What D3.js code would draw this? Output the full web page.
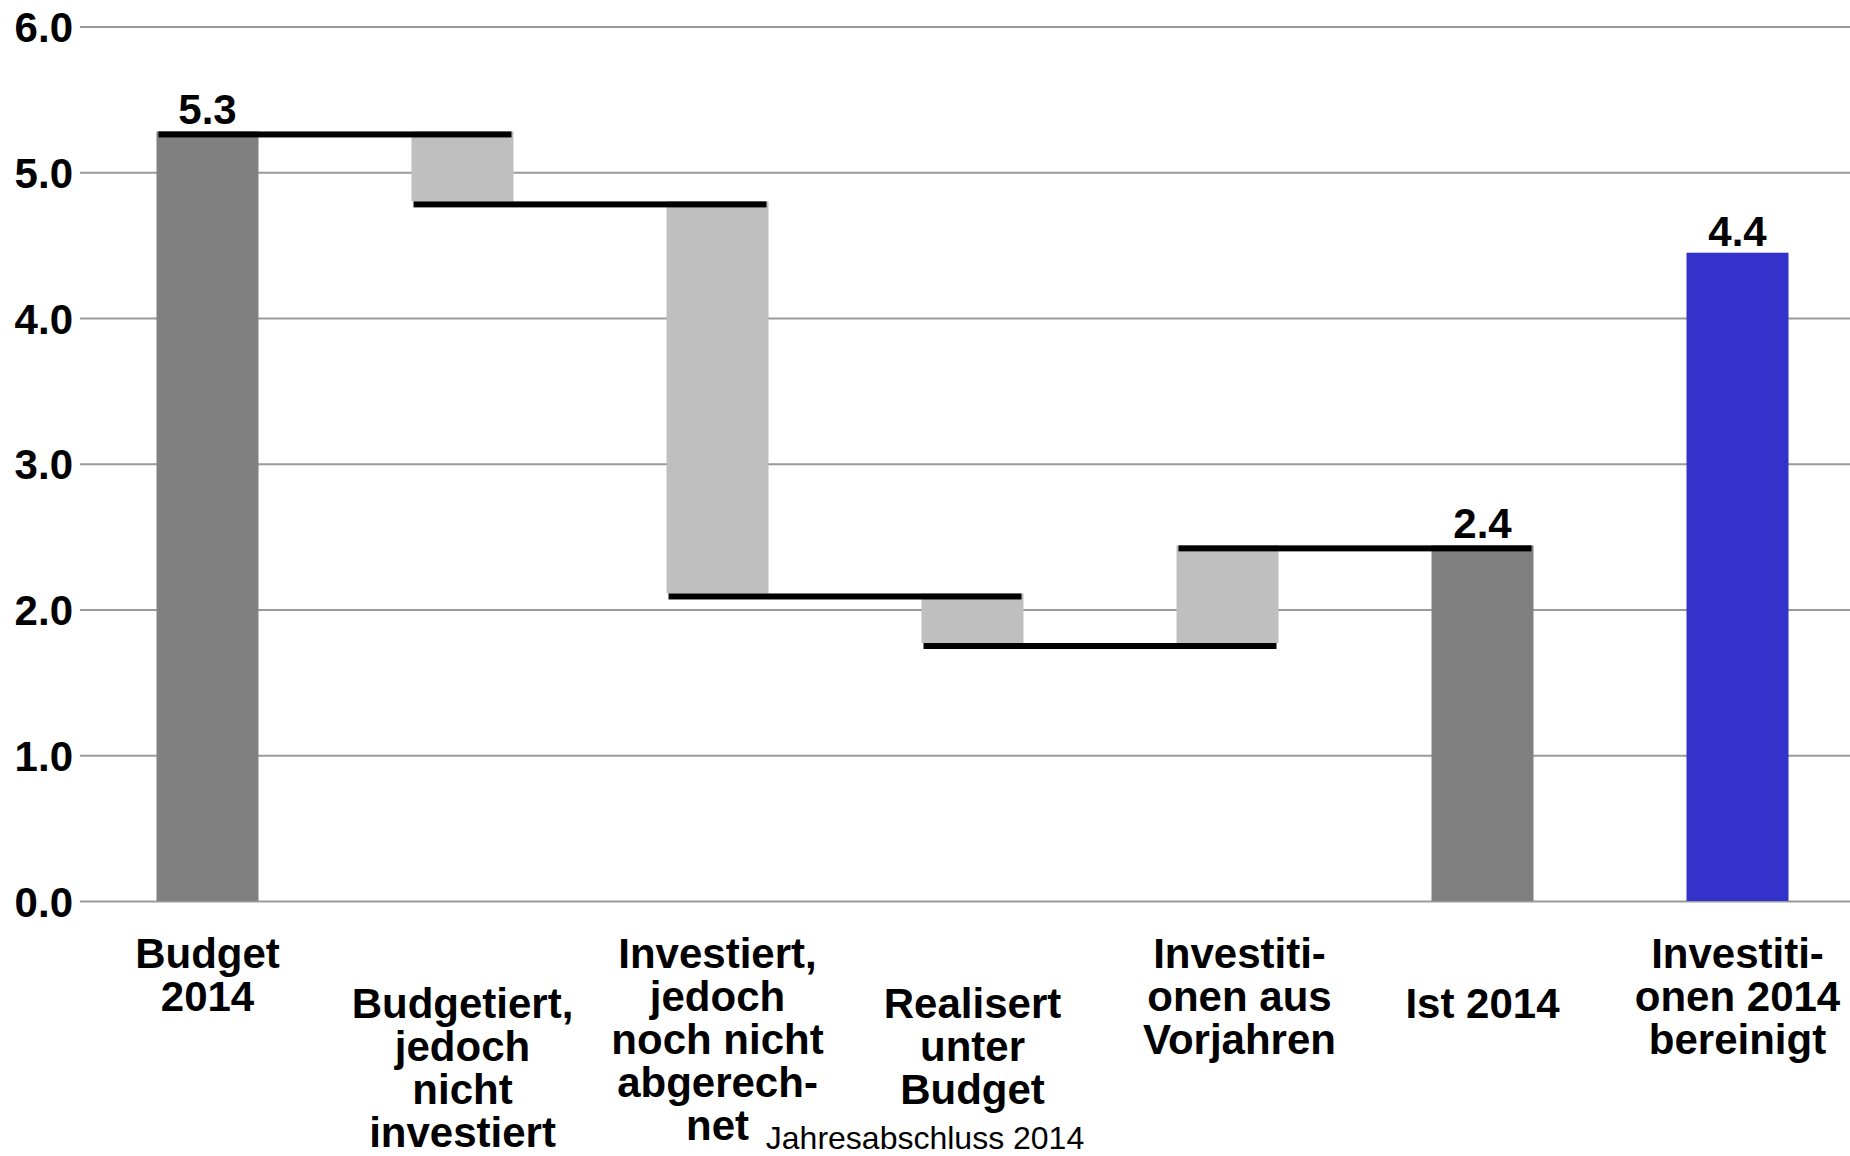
<!DOCTYPE html>
<html>
<head>
<meta charset="utf-8">
<script src="https://cdn.jsdelivr.net/npm/d3@7"></script>
<style>
  body { margin: 0; background: #fff; }
  svg { display: block; font-family: "Liberation Sans", Arial, sans-serif; }
  .grid line { stroke: #9a9a9a; stroke-width: 2; }
  .grid text { font-size: 42px; font-weight: bold; fill: #000; }
  .cat text { font-size: 42px; font-weight: bold; fill: #000; }
</style>
</head>
<body>
<div id="mainDiv"></div>
<script>
// Categories (line breaks as in the original chart)
const categories = [
	"Budget\n2014",
	"Budgetiert,\njedoch\nnicht\ninvestiert",
	"Investiert,\njedoch\nnoch nicht\nabgerech-\nnet",
	"Realisert\nunter\nBudget",
	"Investiti-\nonen aus\nVorjahren",
	"Ist 2014",
	"Investiti-\nonen 2014\nbereinigt"
];

// Values in Mio: totals are absolute, deltas are changes
const values = [5.28, -0.48, -2.69, -0.34, 0.67, 2.44, 4.448];
const kinds  = ["total", "delta", "delta", "delta", "delta", "total", "total"];

const yTicks = [0, 1, 2, 3, 4, 5, 6];
const footer = "Jahresabschluss 2014";

let width = 1850,
	height = 1156;

let svg = d3.select("#mainDiv").append("svg")
	.attr("width", width)
	.attr("height", height);

// Scales
let x = d3.scaleBand()
	.domain(categories)
	.range([80, 1865])
	.paddingInner(0.6)
	.paddingOuter(0.3);

let y = d3.scaleLinear()
	.domain([0, 6])
	.range([901, 26.5]);

// Build waterfall steps
let running = 0;
let steps = categories.map(function(c, i) {
	let start, end;
	if (kinds[i] === "total") {
		start = 0; end = values[i]; running = values[i];
	} else {
		start = running; end = running + values[i]; running = end;
	}
	return {cat: c, start: start, end: end, kind: kinds[i], level: running, idx: i};
});

// Y axis with gridlines
let gy = svg.append("g")
	.attr("class", "grid")
	.attr("transform", "translate(80,0)")
	.call(d3.axisLeft(y)
		.tickValues(yTicks)
		.tickFormat(d3.format(".1f"))
		.tickSize(-(width - 80))
		.tickPadding(7));
gy.select(".domain").remove();
gy.selectAll("text").attr("dy", "0.36em");

// Bars
function barColor(d) {
	if (d.idx === categories.length - 1) return "#3333cc";
	return d.kind === "total" ? "#808080" : "#bfbfbf";
}

svg.append("g").selectAll("rect")
	.data(steps)
	.enter().append("rect")
	.attr("x", function(d) { return x(d.cat); })
	.attr("width", x.bandwidth())
	.attr("y", function(d) { return y(Math.max(d.start, d.end)); })
	.attr("height", function(d) { return Math.abs(y(d.start) - y(d.end)); })
	.attr("fill", barColor);

// Connector lines (from bar i to bar i+1), none before the last bar
let links = steps.slice(0, 5);
svg.append("g").selectAll("rect")
	.data(links)
	.enter().append("rect")
	.attr("x", function(d) { return x(d.cat) + 2; })
	.attr("width", function(d) {
		let next = categories[d.idx + 1];
		return x(next) + x.bandwidth() - 2 - (x(d.cat) + 2);
	})
	.attr("y", function(d) { return y(d.level); })
	.attr("height", 6)
	.attr("fill", "#000");

// Value labels on totals
svg.append("g").selectAll("text")
	.data(steps.filter(function(d) { return d.kind === "total"; }))
	.enter().append("text")
	.attr("x", function(d) { return x(d.cat) + x.bandwidth() / 2; })
	.attr("y", function(d) { return y(d.end) - 7; })
	.attr("text-anchor", "middle")
	.style("font-size", "42px")
	.style("font-weight", "bold")
	.text(function(d) { return d3.format(".1f")(d.end); });

// Category axis (staggered, multi-line)
let gx = svg.append("g")
	.attr("class", "cat")
	.attr("transform", "translate(0," + y(0) + ")")
	.call(d3.axisBottom(x).tickSize(0).tickPadding(0));
gx.select(".domain").remove();
gx.selectAll("text").each(function(d, i) {
	let t = d3.select(this).text(null).attr("dy", null).attr("y", 0);
	let base = (i % 2 === 0) ? 67 : 117;
	// the "Vorjahren" label sits a bit right of its bar in the original
	let shift = (i === 4) ? 12 : 0;
	d.split("\n").forEach(function(line, k) {
		t.append("tspan")
			.attr("x", shift)
			.attr("y", base + k * 43)
			.text(line);
	});
});

// Footer
svg.append("text")
	.attr("x", width / 2)
	.attr("y", 1149)
	.attr("text-anchor", "middle")
	.style("font-size", "32px")
	.text(footer);
</script>
</body>
</html>
